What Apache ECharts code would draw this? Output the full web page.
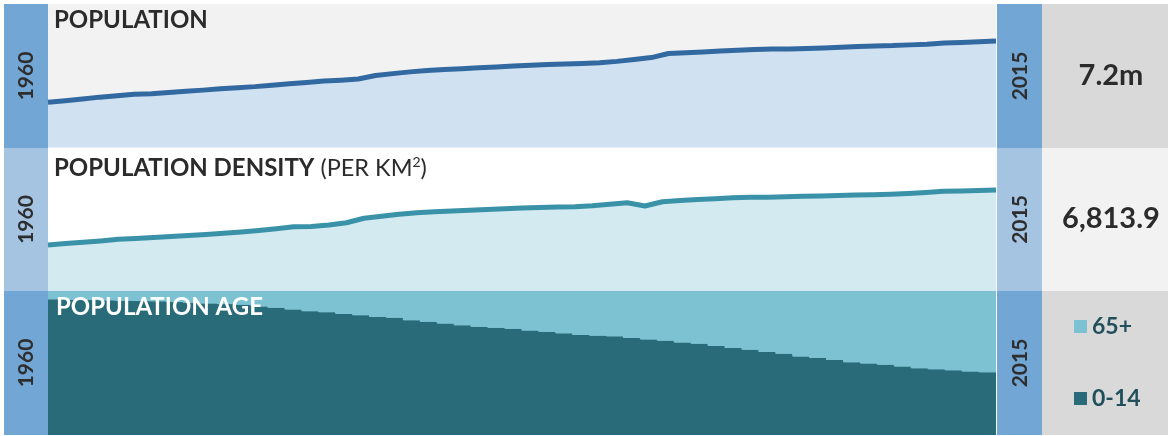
<!DOCTYPE html>
<html>
<head>
<meta charset="utf-8">
<script src="https://cdn.jsdelivr.net/npm/echarts@6/dist/echarts.min.js"></script>
<style>
html,body{margin:0;padding:0;background:#fff;}
#c{width:1168px;height:436px;}
</style>
</head>
<body>
<div id="c"></div>
<script>
// Years
var years = [];
for (var y = 1960; y <= 2015; y++) years.push(String(y));
var densityYears = years.slice(1); // density series starts 1961

// Population (millions), 1960-2015
var population = [3.10,3.20,3.32,3.45,3.55,3.65,3.69,3.77,3.85,3.93,4.02,4.10,4.17,4.27,4.37,4.45,4.55,4.61,4.69,4.93,
  5.06,5.18,5.27,5.34,5.40,5.46,5.52,5.58,5.63,5.69,5.72,5.76,5.81,5.90,6.03,6.16,6.44,6.49,6.54,6.61,
  6.67,6.71,6.74,6.75,6.78,6.81,6.86,6.92,6.96,6.98,7.03,7.08,7.16,7.19,7.24,7.29];

// Population density (per km2), 1961-2015
var density = [3104,3199,3293,3381,3489,3543,3604,3671,3745,3819,3894,3981,4089,4204,4332,4359,4454,4609,4906,5048,
  5183,5284,5344,5398,5453,5507,5554,5594,5628,5662,5689,5756,5857,5958,5736,6026,6107,6168,6222,6289,
  6330,6323,6357,6390,6417,6444,6471,6498,6532,6573,6640,6728,6755,6782,6813.9];

// Population age: share of 0-14 and 65+ within (0-14 + 65+), %, 1960-2015
var age0to14 = [94.2,93.9,93.7,93.5,93.2,93.0,92.8,92.3,91.8,91.4,90.9,90.4,89.3,88.3,87.2,86.0,85.3,84.1,83.2,82.0,
  81.4,79.7,78.6,77.4,76.2,75.1,74.4,73.7,72.5,71.6,70.6,69.5,69.0,68.5,67.4,66.4,65.5,64.3,63.4,61.8,
  60.4,59.2,57.6,56.4,54.5,53.4,52.0,50.6,49.7,48.7,47.6,46.4,45.7,45.0,44.1,43.6];
var age65plus = [5.8,6.1,6.3,6.5,6.8,7.0,7.2,7.7,8.2,8.6,9.1,9.6,10.7,11.7,12.8,14.0,14.7,15.9,16.8,18.0,
  18.6,20.3,21.4,22.6,23.8,24.9,25.6,26.3,27.5,28.4,29.4,30.5,31.0,31.5,32.6,33.6,34.5,35.7,36.6,38.2,
  39.6,40.8,42.4,43.6,45.5,46.6,48.0,49.4,50.3,51.3,52.4,53.6,54.3,55.0,55.9,56.4];

var startYear = '1960', endYear = '2015';
var popLabel = '7.2m';
var densityLabel = '6,813.9';

var FONT = 'Lato, "Noto Sans", sans-serif';
var DARK = '#72a6d5', LIGHT = '#a4c4e2';

function rect(x, y, w, h, fill) {
  return {type: 'rect', z: -10, shape: {x: x, y: y, width: w, height: h}, style: {fill: fill}, silent: true};
}
function vText(x, y, t) {
  return {type: 'text', x: x, y: y, rotation: Math.PI / 2, z: 50,
    style: {text: t, font: 'bold 21px ' + FONT, fill: '#2e2e2e', align: 'center', verticalAlign: 'middle',
      textAlign: 'center', textVerticalAlign: 'middle'}};
}
function hText(x, y, t, size, color, align) {
  return {type: 'text', x: x, y: y, z: 50,
    style: {text: t, font: 'bold ' + size + 'px ' + FONT, fill: color, align: align || 'center', verticalAlign: 'middle',
      textAlign: align || 'center', textVerticalAlign: 'middle'}};
}

var rows = [{top: 4, h: 144, strip: DARK, panel: '#d9d9d9'},
            {top: 148, h: 143, strip: LIGHT, panel: '#f2f2f2'},
            {top: 291, h: 144, strip: DARK, panel: '#d9d9d9'}];

var graphics = [];
rows.forEach(function (r) {
  graphics.push(rect(4, r.top, 44, r.h, r.strip));
  graphics.push(rect(997, r.top, 45, r.h, r.strip));
  graphics.push(rect(1042, r.top, 126, r.h, r.panel));
  graphics.push(vText(26.5, r.top + r.h / 2, startYear));
  graphics.push(vText(1020.5, r.top + r.h / 2, endYear));
});
graphics.push(hText(1111, 76, popLabel, 29, '#2b2b2b'));
graphics.push(hText(1111, 219, densityLabel, 29, '#2b2b2b'));

// Titles
graphics.push({type: 'text', x: 54, y: 20.5, z: 50,
  style: {text: 'POPULATION', font: 'bold 24px ' + FONT, fill: '#2b2b2b', verticalAlign: 'middle', textVerticalAlign: 'middle'}});
graphics.push({type: 'text', x: 54, y: 168.5, z: 50,
  style: {text: '{b|POPULATION DENSITY}{n| (PER KM}{s|2}{n|)}', verticalAlign: 'middle', textVerticalAlign: 'middle',
    rich: {b: {font: 'bold 24px ' + FONT, fill: '#2b2b2b', color: '#2b2b2b', lineHeight: 26},
           n: {font: '23.5px ' + FONT, fill: '#2b2b2b', color: '#2b2b2b', lineHeight: 26},
           s: {font: '14px ' + FONT, fill: '#2b2b2b', color: '#2b2b2b', lineHeight: 14, verticalAlign: 'top'}}}});
graphics.push({type: 'text', x: 56, y: 307, z: 50,
  style: {text: 'POPULATION AGE', font: 'bold 24px ' + FONT, fill: '#ffffff', verticalAlign: 'middle', textVerticalAlign: 'middle'}});

var chart = echarts.init(document.getElementById('c'), null, {renderer: 'canvas'});
chart.setOption({
  animation: false,
  backgroundColor: '#ffffff',
  graphic: {elements: graphics},
  legend: {
    data: ['65+', '0-14'], orient: 'vertical', left: 1074, top: 315, padding: 0, itemWidth: 13, itemHeight: 13,
    itemGap: 49, icon: 'rect', selectedMode: false,
    textStyle: {fontFamily: FONT, fontWeight: 'bold', fontSize: 23, color: '#21505c'}
  },
  grid: [
    {left: 48, top: 4, width: 948, height: 143.5, show: true, backgroundColor: '#f2f2f2', borderWidth: 0},
    {left: 48, top: 148, width: 948, height: 143, show: true, backgroundColor: '#ffffff', borderWidth: 0},
    {left: 48, top: 291, width: 948, height: 144, show: true, backgroundColor: '#7cc2d2', borderWidth: 0}
  ],
  xAxis: [
    {type: 'category', gridIndex: 0, data: years, boundaryGap: false, show: false},
    {type: 'category', gridIndex: 1, data: densityYears, boundaryGap: false, show: false},
    {type: 'category', gridIndex: 2, data: years, boundaryGap: true, show: false}
  ],
  yAxis: [
    {type: 'value', gridIndex: 0, min: 0, max: 9.83, show: false},
    {type: 'value', gridIndex: 1, min: 0, max: 9650, show: false},
    {type: 'value', gridIndex: 2, min: 0, max: 100, show: false}
  ],
  series: [
    {name: 'Population', type: 'line', xAxisIndex: 0, yAxisIndex: 0, data: population, symbol: 'none',
      lineStyle: {color: '#3369a1', width: 5, join: 'round'}, areaStyle: {color: '#d0e1f1', opacity: 1}, z: 3},
    {name: 'Density', type: 'line', xAxisIndex: 1, yAxisIndex: 1, data: density, symbol: 'none',
      lineStyle: {color: '#3a92a8', width: 5, join: 'round'}, areaStyle: {color: '#d3eaf0', opacity: 1}, z: 3},
    {name: '0-14', type: 'bar', xAxisIndex: 2, yAxisIndex: 2, stack: 'age', data: age0to14, barWidth: 18.2,
      itemStyle: {color: '#296b79'}},
    {name: '65+', type: 'bar', xAxisIndex: 2, yAxisIndex: 2, stack: 'age', data: age65plus, barWidth: 18.2,
      itemStyle: {color: '#7cc2d2'}}
  ]
});
</script>
</body>
</html>
